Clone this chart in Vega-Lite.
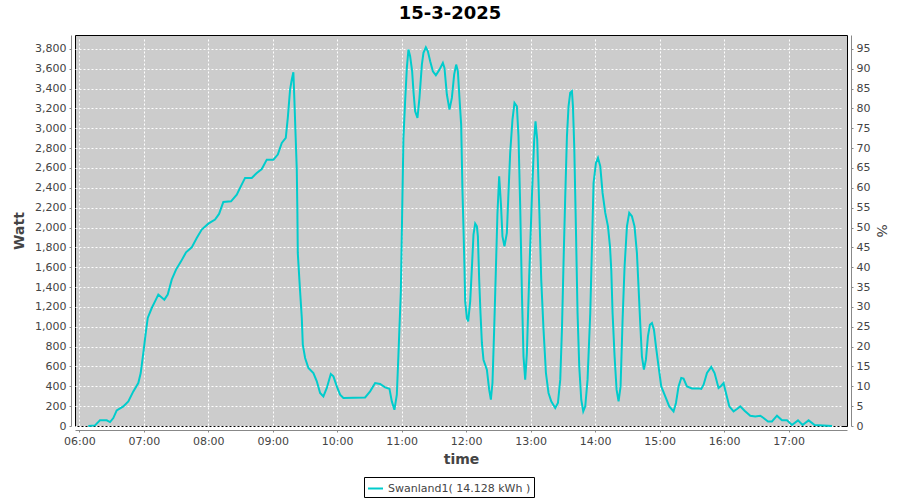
{
  "$schema": "https://vega.github.io/schema/vega-lite/v6.json",
  "autosize": "none",
  "width": 772,
  "height": 391,
  "padding": {"left": 75, "top": 35, "right": 53, "bottom": 74},
  "background": "white",
  "title": {"text": "15-3-2025", "fontSize": 18, "font": "DejaVu Sans", "fontWeight": "bold", "color": "#000000", "offset": 12, "dx": -11},
  "config": {
    "view": {"fill": "#CCCCCC", "stroke": "#000000", "strokeWidth": 1},
    "axis": {
      "labelFont": "DejaVu Sans", "labelFontSize": 11, "labelColor": "#444444",
      "titleFont": "DejaVu Sans", "titleFontSize": 14, "titleFontWeight": "bold", "titleColor": "#444444",
      "domainColor": "#888888", "tickColor": "#888888", "tickSize": 2, "offset": 4,
      "gridColor": "#FFFFFF", "gridDash": [2, 2], "gridWidth": 1, "gridOpacity": 1
    }
  },
  "data": {
    "values": [
      {"t": "2025-03-15T06:08:23", "w": 0},
      {"t": "2025-03-15T06:14:37", "w": 6},
      {"t": "2025-03-15T06:19:16", "w": 57},
      {"t": "2025-03-15T06:25:30", "w": 57},
      {"t": "2025-03-15T06:28:35", "w": 40},
      {"t": "2025-03-15T06:31:39", "w": 80},
      {"t": "2025-03-15T06:34:49", "w": 157},
      {"t": "2025-03-15T06:40:58", "w": 198},
      {"t": "2025-03-15T06:45:37", "w": 248},
      {"t": "2025-03-15T06:50:16", "w": 349},
      {"t": "2025-03-15T06:54:55", "w": 433},
      {"t": "2025-03-15T06:57:09", "w": 534},
      {"t": "2025-03-15T06:59:35", "w": 736},
      {"t": "2025-03-15T07:01:49", "w": 937},
      {"t": "2025-03-15T07:03:41", "w": 1089},
      {"t": "2025-03-15T07:07:25", "w": 1189},
      {"t": "2025-03-15T07:10:28", "w": 1256},
      {"t": "2025-03-15T07:13:32", "w": 1324},
      {"t": "2025-03-15T07:19:07", "w": 1273},
      {"t": "2025-03-15T07:22:17", "w": 1324},
      {"t": "2025-03-15T07:26:01", "w": 1475},
      {"t": "2025-03-15T07:30:01", "w": 1576},
      {"t": "2025-03-15T07:34:41", "w": 1659},
      {"t": "2025-03-15T07:39:20", "w": 1750},
      {"t": "2025-03-15T07:44:38", "w": 1800},
      {"t": "2025-03-15T07:49:17", "w": 1895},
      {"t": "2025-03-15T07:53:56", "w": 1979},
      {"t": "2025-03-15T08:00:05", "w": 2039},
      {"t": "2025-03-15T08:06:19", "w": 2080},
      {"t": "2025-03-15T08:10:03", "w": 2137},
      {"t": "2025-03-15T08:14:03", "w": 2258},
      {"t": "2025-03-15T08:21:13", "w": 2264},
      {"t": "2025-03-15T08:26:32", "w": 2331},
      {"t": "2025-03-15T08:29:36", "w": 2399},
      {"t": "2025-03-15T08:34:16", "w": 2500},
      {"t": "2025-03-15T08:40:30", "w": 2500},
      {"t": "2025-03-15T08:45:10", "w": 2550},
      {"t": "2025-03-15T08:49:49", "w": 2590},
      {"t": "2025-03-15T08:54:28", "w": 2684},
      {"t": "2025-03-15T09:00:37", "w": 2684},
      {"t": "2025-03-15T09:04:43", "w": 2735},
      {"t": "2025-03-15T09:08:26", "w": 2853},
      {"t": "2025-03-15T09:12:09", "w": 2903},
      {"t": "2025-03-15T09:14:01", "w": 3105},
      {"t": "2025-03-15T09:16:09", "w": 3390},
      {"t": "2025-03-15T09:17:44", "w": 3491},
      {"t": "2025-03-15T09:19:13", "w": 3565},
      {"t": "2025-03-15T09:20:09", "w": 3289},
      {"t": "2025-03-15T09:21:05", "w": 2987},
      {"t": "2025-03-15T09:22:23", "w": 2584},
      {"t": "2025-03-15T09:22:57", "w": 2147},
      {"t": "2025-03-15T09:23:19", "w": 1744},
      {"t": "2025-03-15T09:25:28", "w": 1357},
      {"t": "2025-03-15T09:27:03", "w": 1089},
      {"t": "2025-03-15T09:27:59", "w": 820},
      {"t": "2025-03-15T09:30:08", "w": 685},
      {"t": "2025-03-15T09:33:12", "w": 585},
      {"t": "2025-03-15T09:37:51", "w": 534},
      {"t": "2025-03-15T09:41:01", "w": 450},
      {"t": "2025-03-15T09:44:05", "w": 333},
      {"t": "2025-03-15T09:47:09", "w": 298},
      {"t": "2025-03-15T09:50:19", "w": 383},
      {"t": "2025-03-15T09:54:02", "w": 524},
      {"t": "2025-03-15T09:56:28", "w": 500},
      {"t": "2025-03-15T09:59:38", "w": 399},
      {"t": "2025-03-15T10:02:42", "w": 315},
      {"t": "2025-03-15T10:05:46", "w": 282},
      {"t": "2025-03-15T10:25:58", "w": 288},
      {"t": "2025-03-15T10:30:38", "w": 349},
      {"t": "2025-03-15T10:35:17", "w": 433},
      {"t": "2025-03-15T10:39:56", "w": 423},
      {"t": "2025-03-15T10:44:36", "w": 389},
      {"t": "2025-03-15T10:48:36", "w": 376},
      {"t": "2025-03-15T10:50:50", "w": 248},
      {"t": "2025-03-15T10:53:15", "w": 164},
      {"t": "2025-03-15T10:55:29", "w": 315},
      {"t": "2025-03-15T10:56:59", "w": 719},
      {"t": "2025-03-15T10:59:13", "w": 1357},
      {"t": "2025-03-15T11:00:25", "w": 2130},
      {"t": "2025-03-15T11:01:38", "w": 2903},
      {"t": "2025-03-15T11:03:13", "w": 3272},
      {"t": "2025-03-15T11:04:48", "w": 3609},
      {"t": "2025-03-15T11:06:17", "w": 3793},
      {"t": "2025-03-15T11:07:52", "w": 3726},
      {"t": "2025-03-15T11:09:44", "w": 3574},
      {"t": "2025-03-15T11:10:57", "w": 3373},
      {"t": "2025-03-15T11:12:32", "w": 3171},
      {"t": "2025-03-15T11:14:41", "w": 3105},
      {"t": "2025-03-15T11:16:32", "w": 3306},
      {"t": "2025-03-15T11:18:47", "w": 3642},
      {"t": "2025-03-15T11:20:16", "w": 3760},
      {"t": "2025-03-15T11:22:30", "w": 3816},
      {"t": "2025-03-15T11:24:22", "w": 3776},
      {"t": "2025-03-15T11:26:31", "w": 3675},
      {"t": "2025-03-15T11:29:01", "w": 3574},
      {"t": "2025-03-15T11:31:49", "w": 3534},
      {"t": "2025-03-15T11:35:10", "w": 3591},
      {"t": "2025-03-15T11:38:20", "w": 3659},
      {"t": "2025-03-15T11:39:49", "w": 3609},
      {"t": "2025-03-15T11:42:03", "w": 3340},
      {"t": "2025-03-15T11:44:28", "w": 3188},
      {"t": "2025-03-15T11:46:42", "w": 3306},
      {"t": "2025-03-15T11:48:50", "w": 3541},
      {"t": "2025-03-15T11:50:42", "w": 3642},
      {"t": "2025-03-15T11:52:17", "w": 3574},
      {"t": "2025-03-15T11:53:46", "w": 3306},
      {"t": "2025-03-15T11:55:21", "w": 3037},
      {"t": "2025-03-15T11:56:34", "w": 2365},
      {"t": "2025-03-15T11:57:30", "w": 1996},
      {"t": "2025-03-15T11:58:26", "w": 1593},
      {"t": "2025-03-15T11:59:05", "w": 1256},
      {"t": "2025-03-15T12:00:40", "w": 1089},
      {"t": "2025-03-15T12:01:53", "w": 1054},
      {"t": "2025-03-15T12:03:45", "w": 1256},
      {"t": "2025-03-15T12:05:20", "w": 1593},
      {"t": "2025-03-15T12:06:49", "w": 1928},
      {"t": "2025-03-15T12:08:24", "w": 2040},
      {"t": "2025-03-15T12:09:59", "w": 2012},
      {"t": "2025-03-15T12:10:55", "w": 1911},
      {"t": "2025-03-15T12:12:07", "w": 1475},
      {"t": "2025-03-15T12:13:20", "w": 1139},
      {"t": "2025-03-15T12:14:38", "w": 837},
      {"t": "2025-03-15T12:16:07", "w": 668},
      {"t": "2025-03-15T12:19:17", "w": 568},
      {"t": "2025-03-15T12:21:25", "w": 366},
      {"t": "2025-03-15T12:23:00", "w": 265},
      {"t": "2025-03-15T12:24:29", "w": 433},
      {"t": "2025-03-15T12:26:04", "w": 971},
      {"t": "2025-03-15T12:27:39", "w": 1576},
      {"t": "2025-03-15T12:29:08", "w": 2147},
      {"t": "2025-03-15T12:30:43", "w": 2516},
      {"t": "2025-03-15T12:32:18", "w": 2248},
      {"t": "2025-03-15T12:33:47", "w": 1911},
      {"t": "2025-03-15T12:35:39", "w": 1810},
      {"t": "2025-03-15T12:37:53", "w": 1945},
      {"t": "2025-03-15T12:39:23", "w": 2349},
      {"t": "2025-03-15T12:40:58", "w": 2752},
      {"t": "2025-03-15T12:43:06", "w": 3088},
      {"t": "2025-03-15T12:44:58", "w": 3256},
      {"t": "2025-03-15T12:47:12", "w": 3222},
      {"t": "2025-03-15T12:48:42", "w": 2919},
      {"t": "2025-03-15T12:50:17", "w": 2214},
      {"t": "2025-03-15T12:51:52", "w": 1341},
      {"t": "2025-03-15T12:53:21", "w": 702},
      {"t": "2025-03-15T12:54:56", "w": 467},
      {"t": "2025-03-15T12:56:31", "w": 736},
      {"t": "2025-03-15T12:58:40", "w": 1508},
      {"t": "2025-03-15T13:01:11", "w": 2314},
      {"t": "2025-03-15T13:03:19", "w": 2886},
      {"t": "2025-03-15T13:04:32", "w": 3070},
      {"t": "2025-03-15T13:06:07", "w": 2886},
      {"t": "2025-03-15T13:07:59", "w": 2214},
      {"t": "2025-03-15T13:09:51", "w": 1475},
      {"t": "2025-03-15T13:12:00", "w": 971},
      {"t": "2025-03-15T13:14:14", "w": 534},
      {"t": "2025-03-15T13:16:39", "w": 333},
      {"t": "2025-03-15T13:19:10", "w": 248},
      {"t": "2025-03-15T13:22:53", "w": 181},
      {"t": "2025-03-15T13:25:24", "w": 232},
      {"t": "2025-03-15T13:27:33", "w": 467},
      {"t": "2025-03-15T13:29:08", "w": 971},
      {"t": "2025-03-15T13:30:37", "w": 1643},
      {"t": "2025-03-15T13:32:12", "w": 2314},
      {"t": "2025-03-15T13:33:47", "w": 2919},
      {"t": "2025-03-15T13:35:16", "w": 3222},
      {"t": "2025-03-15T13:36:51", "w": 3357},
      {"t": "2025-03-15T13:38:26", "w": 3373},
      {"t": "2025-03-15T13:39:22", "w": 3222},
      {"t": "2025-03-15T13:40:35", "w": 2818},
      {"t": "2025-03-15T13:42:10", "w": 1979},
      {"t": "2025-03-15T13:43:39", "w": 1139},
      {"t": "2025-03-15T13:45:14", "w": 601},
      {"t": "2025-03-15T13:47:06", "w": 265},
      {"t": "2025-03-15T13:48:58", "w": 147},
      {"t": "2025-03-15T13:50:50", "w": 198},
      {"t": "2025-03-15T13:52:58", "w": 467},
      {"t": "2025-03-15T13:55:29", "w": 1139},
      {"t": "2025-03-15T13:57:04", "w": 1810},
      {"t": "2025-03-15T13:58:33", "w": 2449},
      {"t": "2025-03-15T14:00:47", "w": 2651},
      {"t": "2025-03-15T14:02:39", "w": 2701},
      {"t": "2025-03-15T14:04:48", "w": 2617},
      {"t": "2025-03-15T14:06:56", "w": 2349},
      {"t": "2025-03-15T14:09:27", "w": 2147},
      {"t": "2025-03-15T14:11:58", "w": 2012},
      {"t": "2025-03-15T14:13:50", "w": 1810},
      {"t": "2025-03-15T14:15:02", "w": 1576},
      {"t": "2025-03-15T14:16:15", "w": 1139},
      {"t": "2025-03-15T14:18:07", "w": 702},
      {"t": "2025-03-15T14:19:59", "w": 366},
      {"t": "2025-03-15T14:21:50", "w": 248},
      {"t": "2025-03-15T14:23:42", "w": 399},
      {"t": "2025-03-15T14:25:34", "w": 1071},
      {"t": "2025-03-15T14:27:26", "w": 1609},
      {"t": "2025-03-15T14:29:37", "w": 2012},
      {"t": "2025-03-15T14:31:45", "w": 2147},
      {"t": "2025-03-15T14:34:15", "w": 2113},
      {"t": "2025-03-15T14:36:40", "w": 2012},
      {"t": "2025-03-15T14:38:54", "w": 1744},
      {"t": "2025-03-15T14:40:23", "w": 1407},
      {"t": "2025-03-15T14:41:58", "w": 1038},
      {"t": "2025-03-15T14:43:33", "w": 702},
      {"t": "2025-03-15T14:45:25", "w": 568},
      {"t": "2025-03-15T14:47:17", "w": 668},
      {"t": "2025-03-15T14:49:09", "w": 903},
      {"t": "2025-03-15T14:51:01", "w": 1021},
      {"t": "2025-03-15T14:52:53", "w": 1038},
      {"t": "2025-03-15T14:54:45", "w": 971},
      {"t": "2025-03-15T14:56:37", "w": 802},
      {"t": "2025-03-15T14:59:02", "w": 601},
      {"t": "2025-03-15T15:01:32", "w": 399},
      {"t": "2025-03-15T15:05:16", "w": 298},
      {"t": "2025-03-15T15:09:00", "w": 198},
      {"t": "2025-03-15T15:13:00", "w": 147},
      {"t": "2025-03-15T15:15:14", "w": 232},
      {"t": "2025-03-15T15:17:39", "w": 399},
      {"t": "2025-03-15T15:20:09", "w": 484},
      {"t": "2025-03-15T15:22:17", "w": 477},
      {"t": "2025-03-15T15:25:27", "w": 399},
      {"t": "2025-03-15T15:30:07", "w": 379},
      {"t": "2025-03-15T15:36:16", "w": 379},
      {"t": "2025-03-15T15:38:47", "w": 373},
      {"t": "2025-03-15T15:40:56", "w": 416},
      {"t": "2025-03-15T15:44:06", "w": 534},
      {"t": "2025-03-15T15:48:06", "w": 595},
      {"t": "2025-03-15T15:51:10", "w": 534},
      {"t": "2025-03-15T15:54:53", "w": 383},
      {"t": "2025-03-15T15:57:24", "w": 406},
      {"t": "2025-03-15T15:59:32", "w": 433},
      {"t": "2025-03-15T16:01:46", "w": 333},
      {"t": "2025-03-15T16:04:51", "w": 198},
      {"t": "2025-03-15T16:08:51", "w": 147},
      {"t": "2025-03-15T16:12:01", "w": 171},
      {"t": "2025-03-15T16:15:05", "w": 198},
      {"t": "2025-03-15T16:19:05", "w": 154},
      {"t": "2025-03-15T16:24:24", "w": 104},
      {"t": "2025-03-15T16:29:03", "w": 97},
      {"t": "2025-03-15T16:33:42", "w": 104},
      {"t": "2025-03-15T16:36:46", "w": 81},
      {"t": "2025-03-15T16:40:52", "w": 46},
      {"t": "2025-03-15T16:44:35", "w": 46},
      {"t": "2025-03-15T16:49:14", "w": 104},
      {"t": "2025-03-15T16:53:54", "w": 57},
      {"t": "2025-03-15T16:58:33", "w": 57},
      {"t": "2025-03-15T17:03:13", "w": 10},
      {"t": "2025-03-15T17:08:48", "w": 57},
      {"t": "2025-03-15T17:13:05", "w": 10},
      {"t": "2025-03-15T17:18:40", "w": 57},
      {"t": "2025-03-15T17:24:16", "w": 10},
      {"t": "2025-03-15T17:40:27", "w": 0}
    ]
  },
  "encoding": {
    "x": {
      "field": "t", "type": "temporal",
      "scale": {"domain": [{"year": 2025, "month": 3, "date": 15, "hours": 5, "minutes": 56}, {"year": 2025, "month": 3, "date": 15, "hours": 17, "minutes": 54, "seconds": 24}], "nice": false},
      "axis": {"title": "time", "format": "%H:%M", "labelPadding": 3, "titlePadding": 6, "grid": true,
        "values": [
          {"year": 2025, "month": 3, "date": 15, "hours": 6},
          {"year": 2025, "month": 3, "date": 15, "hours": 7},
          {"year": 2025, "month": 3, "date": 15, "hours": 8},
          {"year": 2025, "month": 3, "date": 15, "hours": 9},
          {"year": 2025, "month": 3, "date": 15, "hours": 10},
          {"year": 2025, "month": 3, "date": 15, "hours": 11},
          {"year": 2025, "month": 3, "date": 15, "hours": 12},
          {"year": 2025, "month": 3, "date": 15, "hours": 13},
          {"year": 2025, "month": 3, "date": 15, "hours": 14},
          {"year": 2025, "month": 3, "date": 15, "hours": 15},
          {"year": 2025, "month": 3, "date": 15, "hours": 16},
          {"year": 2025, "month": 3, "date": 15, "hours": 17}
        ]}
    }
  },
  "layer": [
    {
      "mark": {"type": "line", "strokeWidth": 2, "color": "#00CCCC"},
      "encoding": {
        "y": {
          "field": "w", "type": "quantitative",
          "scale": {"domain": [0, 3940], "nice": false, "zero": true},
          "axis": {"title": "Watt", "orient": "left", "values": [0,200,400,600,800,1000,1200,1400,1600,1800,2000,2200,2400,2600,2800,3000,3200,3400,3600,3800], "format": ",d", "labelPadding": 3, "titlePadding": 8, "grid": true}
        },
        "color": {
          "datum": "Swanland1( 14.128 kWh )",
          "type": "nominal",
          "scale": {"range": ["#00CCCC"]},
          "legend": {"orient": "none", "legendX": 289, "legendY": 442, "title": null, "strokeColor": "#000000", "padding": 3, "symbolType": "stroke", "symbolSize": 225, "symbolStrokeWidth": 2, "labelFont": "DejaVu Sans", "labelFontSize": 11, "labelColor": "#444444"}
        }
      }
    },
    {
      "mark": {"type": "line", "opacity": 0, "clip": true},
      "encoding": {
        "y": {
          "field": "w", "type": "quantitative",
          "scale": {"domain": [0, 98.5], "nice": false, "zero": true},
          "axis": {"title": "%", "orient": "right", "values": [0,5,10,15,20,25,30,35,40,45,50,55,60,65,70,75,80,85,90,95], "labelPadding": 3, "titlePadding": 4, "titleFontWeight": "normal", "grid": false}
        }
      }
    }
  ],
  "resolve": {"scale": {"y": "independent"}}
}
